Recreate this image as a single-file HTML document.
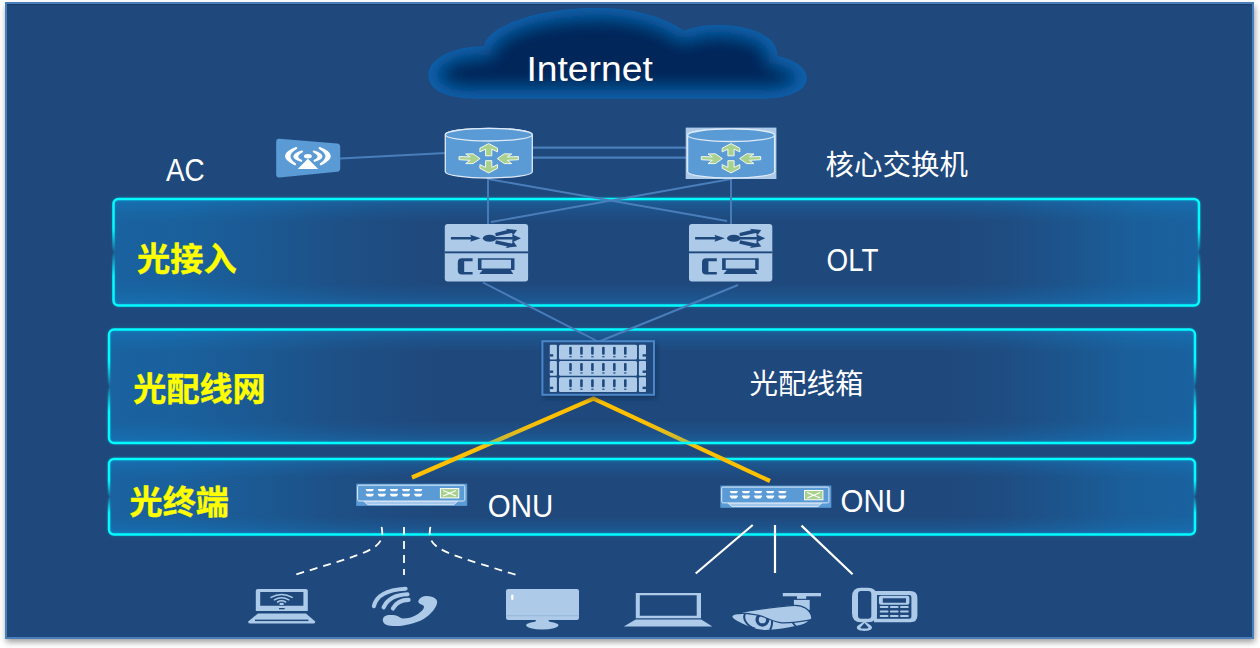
<!DOCTYPE html>
<html lang="zh-CN"><head><meta charset="utf-8"><title>PON network</title>
<style>
html,body{margin:0;padding:0;background:#fff;}
body{width:1260px;height:648px;overflow:hidden;font-family:"Liberation Sans", "Noto Sans CJK SC", sans-serif;}
svg{display:block;font-family:"Liberation Sans", "Noto Sans CJK SC", sans-serif;}
</style></head><body>
<svg width="1260" height="648" viewBox="0 0 1260 648">
<defs>
<filter id="sh" x="-5%" y="-5%" width="110%" height="112%"><feGaussianBlur stdDeviation="3"/></filter>
<filter id="b8" x="-20%" y="-40%" width="140%" height="180%"><feGaussianBlur stdDeviation="8.5"/></filter>
<filter id="b1" x="-5%" y="-20%" width="110%" height="140%"><feGaussianBlur stdDeviation="1.2"/></filter>
<filter id="b3" x="-20%" y="-20%" width="140%" height="140%"><feGaussianBlur stdDeviation="2"/></filter>
<clipPath id="cc"><path d="M476 98.4 C446 98.4 428.6 90 428.6 75 C428.6 58 455 46 484 46.5 C488 25 540 8 597 8 C640 8 668 20 684 31 C700 24 725 23 745 28 C765 33 778 42 777 56 C795 60 806.6 68 806.6 78 C806.6 91 788 98.4 764 98.4 Z"/></clipPath>
<linearGradient id="ph" x1="0" x2="1" y1="0" y2="0">
 <stop offset="0" stop-color="#0e96e6" stop-opacity="0.33"/>
 <stop offset="0.06" stop-color="#0e96e6" stop-opacity="0.31"/>
 <stop offset="0.14" stop-color="#0e96e6" stop-opacity="0.2"/>
 <stop offset="0.21" stop-color="#0e96e6" stop-opacity="0.085"/>
 <stop offset="0.27" stop-color="#0e96e6" stop-opacity="0.02"/>
 <stop offset="0.31" stop-color="#0e96e6" stop-opacity="0"/>
 <stop offset="0.77" stop-color="#0e96e6" stop-opacity="0"/>
 <stop offset="0.82" stop-color="#0e96e6" stop-opacity="0.04"/>
 <stop offset="0.88" stop-color="#0e96e6" stop-opacity="0.15"/>
 <stop offset="0.94" stop-color="#0e96e6" stop-opacity="0.28"/>
 <stop offset="1" stop-color="#0e96e6" stop-opacity="0.33"/>
</linearGradient>
<linearGradient id="pvt" x1="0" x2="0" y1="0" y2="1">
 <stop offset="0" stop-color="#0e96e6" stop-opacity=".27"/>
 <stop offset="0.45" stop-color="#0e96e6" stop-opacity=".12"/>
 <stop offset="1" stop-color="#0e96e6" stop-opacity="0"/>
</linearGradient>
<linearGradient id="pvb" x1="0" x2="0" y1="1" y2="0">
 <stop offset="0" stop-color="#0e96e6" stop-opacity=".27"/>
 <stop offset="0.45" stop-color="#0e96e6" stop-opacity=".12"/>
 <stop offset="1" stop-color="#0e96e6" stop-opacity="0"/>
</linearGradient>
<linearGradient id="pb" x1="0" x2="0" y1="0" y2="1">
 <stop offset="0" stop-color="#02fbff" stop-opacity="1"/>
 <stop offset="0.28" stop-color="#02fbff" stop-opacity="1"/>
 <stop offset="0.5" stop-color="#02fbff" stop-opacity="0"/>
 <stop offset="0.72" stop-color="#02fbff" stop-opacity="1"/>
 <stop offset="1" stop-color="#02fbff" stop-opacity="1"/>
</linearGradient>
</defs>
<rect x="6" y="6" width="1249" height="636" fill="#000" opacity=".4" filter="url(#sh)"/>
<rect x="6" y="3" width="1247" height="635" fill="#1f497d" stroke="#4a7ebb" stroke-width="2"/>
<rect x="7" y="4" width="1245" height="1.2" fill="#183a66" opacity=".8"/>
<g clip-path="url(#cc)"><rect x="420" y="0" width="400" height="110" fill="#0762ad"/><path d="M476 98.4 C446 98.4 428.6 90 428.6 75 C428.6 58 455 46 484 46.5 C488 25 540 8 597 8 C640 8 668 20 684 31 C700 24 725 23 745 28 C765 33 778 42 777 56 C795 60 806.6 68 806.6 78 C806.6 91 788 98.4 764 98.4 Z" fill="#01265a" stroke="#0762ad" stroke-width="17" filter="url(#b8)"/></g>
<g>
<rect x="109" y="458.9" width="1086" height="75.6" rx="5" fill="url(#ph)"/>
<rect x="110" y="458.9" width="1084" height="18" fill="url(#pvt)"/>
<rect x="110" y="516.5" width="1084" height="18" fill="url(#pvb)"/>
<rect x="109" y="458.9" width="1086" height="75.6" rx="5" fill="none" stroke="url(#pb)" stroke-width="4" opacity=".15" filter="url(#b1)"/>
<rect x="109" y="458.9" width="1086" height="75.6" rx="5" fill="none" stroke="url(#pb)" stroke-width="2.5"/>
</g>
<path d="M412 477.5 L593.5 398.5 L770 481" fill="none" stroke="#ffc000" stroke-width="4.2" stroke-linejoin="miter"/>
<g>
<rect x="109" y="329.6" width="1086" height="113.4" rx="5" fill="url(#ph)"/>
<rect x="110" y="329.6" width="1084" height="22" fill="url(#pvt)"/>
<rect x="110" y="421" width="1084" height="22" fill="url(#pvb)"/>
<rect x="109" y="329.6" width="1086" height="113.4" rx="5" fill="none" stroke="url(#pb)" stroke-width="4" opacity=".15" filter="url(#b1)"/>
<rect x="109" y="329.6" width="1086" height="113.4" rx="5" fill="none" stroke="url(#pb)" stroke-width="2.5"/>
</g>
<g>
<rect x="113.5" y="199" width="1085.5" height="106.5" rx="5" fill="url(#ph)"/>
<rect x="114.5" y="199" width="1083.5" height="22" fill="url(#pvt)"/>
<rect x="114.5" y="283.5" width="1083.5" height="22" fill="url(#pvb)"/>
<rect x="113.5" y="199" width="1085.5" height="106.5" rx="5" fill="none" stroke="url(#pb)" stroke-width="4" opacity=".15" filter="url(#b1)"/>
<rect x="113.5" y="199" width="1085.5" height="106.5" rx="5" fill="none" stroke="url(#pb)" stroke-width="2.5"/>
</g>
<line x1="340" y1="158.5" x2="446" y2="153" stroke="#4a7ebb" stroke-width="2" />
<line x1="533" y1="147.7" x2="686" y2="147.7" stroke="#4a7ebb" stroke-width="2.2" />
<line x1="533" y1="157.6" x2="686" y2="157.6" stroke="#4a7ebb" stroke-width="2.2" />
<line x1="488" y1="178" x2="488" y2="225" stroke="#4a7ebb" stroke-width="1.9" />
<line x1="731" y1="178" x2="731" y2="225" stroke="#4a7ebb" stroke-width="1.9" />
<line x1="488" y1="179" x2="727" y2="221" stroke="#4a7ebb" stroke-width="1.9" />
<line x1="731" y1="179" x2="491" y2="222" stroke="#4a7ebb" stroke-width="1.9" />
<line x1="483" y1="282.5" x2="599" y2="342" stroke="#4a7ebb" stroke-width="1.9" />
<line x1="738" y1="285" x2="598" y2="342" stroke="#4a7ebb" stroke-width="1.9" />
<path d="M445.3 134.7 v37 a43.5 6.3 0 0 0 87 0 v-37 a43.5 6.3 0 0 0 -87 0z" fill="#5b9bd5" stroke="#dce9f6" stroke-width="1.3"/><ellipse cx="488.8" cy="134.7" rx="43.5" ry="6.3" fill="#5b9bd5" stroke="#dce9f6" stroke-width="1.3"/>
<g fill="#a9d18e" stroke="#f3f8ec" stroke-width="1" stroke-linejoin="miter"><path d="M488.70 143.60 L497.50 148.20 L497.50 151.90 L491.80 149.10 L491.80 155.80 L485.60 155.80 L485.60 149.10 L479.90 151.90 L479.90 148.20Z"/><path d="M488.70 172.90 L497.50 168.30 L497.50 164.60 L491.80 167.40 L491.80 160.70 L485.60 160.70 L485.60 167.40 L479.90 164.60 L479.90 168.30Z"/><path d="M480.10 158.60 L473.10 153.80 L465.70 154.00 L470.10 156.90 L459.00 156.60 L459.00 159.70 L470.10 160.30 L465.70 163.60 L473.10 163.60Z"/><path d="M497.30 158.60 L504.30 153.80 L511.70 154.00 L507.30 156.90 L518.40 156.60 L518.40 159.70 L507.30 160.30 L511.70 163.60 L504.30 163.60Z"/></g>
<rect x="685.7" y="127.6" width="90.7" height="51.4" fill="#adcbe9"/>
<path d="M687.6 135.2 v36.5 a43.5 6.3 0 0 0 87 0 v-36.5 a43.5 6.3 0 0 0 -87 0z" fill="#5b9bd5" stroke="#dce9f6" stroke-width="1.3"/><ellipse cx="731.1" cy="135.2" rx="43.5" ry="6.3" fill="#5b9bd5" stroke="#dce9f6" stroke-width="1.3"/>
<g fill="#a9d18e" stroke="#f3f8ec" stroke-width="1" stroke-linejoin="miter"><path d="M731.00 143.60 L739.80 148.20 L739.80 151.90 L734.10 149.10 L734.10 155.80 L727.90 155.80 L727.90 149.10 L722.20 151.90 L722.20 148.20Z"/><path d="M731.00 172.90 L739.80 168.30 L739.80 164.60 L734.10 167.40 L734.10 160.70 L727.90 160.70 L727.90 167.40 L722.20 164.60 L722.20 168.30Z"/><path d="M722.40 158.60 L715.40 153.80 L708.00 154.00 L712.40 156.90 L701.30 156.60 L701.30 159.70 L712.40 160.30 L708.00 163.60 L715.40 163.60Z"/><path d="M739.60 158.60 L746.60 153.80 L754.00 154.00 L749.60 156.90 L760.70 156.60 L760.70 159.70 L749.60 160.30 L754.00 163.60 L746.60 163.60Z"/></g>
<path d="M279.5 138.8 L337 143.6 Q340.2 144 340.2 147 V168.2 Q340.2 171.4 337 171.8 L279.5 177.6 Q276.2 177.8 276.2 174.6 V141.8 Q276.2 138.6 279.5 138.8Z" fill="#5b9bd5"/>
<path d="M296.20 148.00 Q276.40 155.70 295.00 164.20 Q283.20 155.70 296.20 148.00ZM302.00 151.50 Q287.20 156.45 301.20 160.80 Q292.80 156.45 302.00 151.50ZM319.60 148.00 Q339.40 155.70 320.80 164.20 Q332.60 155.70 319.60 148.00ZM313.80 151.50 Q328.60 156.45 314.60 160.80 Q323.00 156.45 313.80 151.50Z" fill="#fff" stroke="#fff" stroke-width="2.1" stroke-linejoin="round"/>
<path d="M307.9 158.8 L318.2 169 H297.7Z" fill="#fff"/><ellipse cx="307.9" cy="156.2" rx="3.9" ry="2.2" fill="#fff"/>
<g transform="translate(444.8 224)"><rect x="0" y="0" width="83.3" height="57.4" rx="3" fill="#adcbe9"/><rect x="0" y="27.4" width="83.3" height="1.9" fill="#1f497d"/><path d="M6.1 13 H26.4 L25.4 10.8 L35.9 14.3 L25.4 17.8 L26.4 15.6 H6.1Z" fill="#1f497d"/><ellipse cx="44.8" cy="14.3" rx="6.8" ry="3.5" fill="#1f497d"/><path d="M50 13 H67.8 L67.2 10.2 L76.2 14.3 L67.2 18.4 L67.8 15.6 H50Z" fill="#1f497d"/><path d="M50.4 8.9 L62.6 6 L60.7 4.7 L72.3 6 L68.7 11 L66.9 9 L51 12.3Z" fill="#1f497d"/><path d="M50.4 19.7 L62.6 22.6 L60.7 23.9 L72.3 22.6 L68.7 17.6 L66.9 19.6 L51 16.3Z" fill="#1f497d"/><path d="M27.8 34.3 H17 Q13 34.3 13 38.3 V46.6 Q13 50.6 17 50.6 H27.8 V47.9 H19.4 V37.2 H27.8Z" fill="#1f497d"/><path d="M33.1 34.3 H69.7 V45.9 H33.1Z M36.7 35.8 V44.5 H66.2 V35.8Z" fill="#1f497d" fill-rule="evenodd"/><path d="M38 45.8 H65.8 L68.5 50 H34.5Z" fill="#1f497d"/></g>
<g transform="translate(689 224)"><rect x="0" y="0" width="83.3" height="57.4" rx="3" fill="#adcbe9"/><rect x="0" y="27.4" width="83.3" height="1.9" fill="#1f497d"/><path d="M6.1 13 H26.4 L25.4 10.8 L35.9 14.3 L25.4 17.8 L26.4 15.6 H6.1Z" fill="#1f497d"/><ellipse cx="44.8" cy="14.3" rx="6.8" ry="3.5" fill="#1f497d"/><path d="M50 13 H67.8 L67.2 10.2 L76.2 14.3 L67.2 18.4 L67.8 15.6 H50Z" fill="#1f497d"/><path d="M50.4 8.9 L62.6 6 L60.7 4.7 L72.3 6 L68.7 11 L66.9 9 L51 12.3Z" fill="#1f497d"/><path d="M50.4 19.7 L62.6 22.6 L60.7 23.9 L72.3 22.6 L68.7 17.6 L66.9 19.6 L51 16.3Z" fill="#1f497d"/><path d="M27.8 34.3 H17 Q13 34.3 13 38.3 V46.6 Q13 50.6 17 50.6 H27.8 V47.9 H19.4 V37.2 H27.8Z" fill="#1f497d"/><path d="M33.1 34.3 H69.7 V45.9 H33.1Z M36.7 35.8 V44.5 H66.2 V35.8Z" fill="#1f497d" fill-rule="evenodd"/><path d="M38 45.8 H65.8 L68.5 50 H34.5Z" fill="#1f497d"/></g>
<g><rect x="543" y="343" width="114" height="56" fill="#0a2548" opacity=".45" filter="url(#b3)"/><rect x="542.4" y="341.2" width="111.6" height="53.6" fill="#1f497d" stroke="#4a86c8" stroke-width="2"/><rect x="549.8" y="344.8" width="7.1" height="14.7" rx="1" fill="#adcbe9"/><rect x="559" y="344.8" width="78" height="14.7" rx="1.5" fill="#adcbe9"/><rect x="638.9" y="344.8" width="7.1" height="14.7" rx="1" fill="#adcbe9"/><rect x="549.8" y="354.2" width="3.4" height="2.4" fill="#1f497d"/><rect x="642.6" y="354.2" width="3.4" height="2.4" fill="#1f497d"/><rect x="569.2" y="346.7" width="2.6" height="8" rx="1" fill="#1f497d"/><rect x="569.2" y="356" width="2.6" height="1.4" rx=".6" fill="#1f497d" opacity=".8"/><rect x="580.16" y="346.7" width="2.6" height="8" rx="1" fill="#1f497d"/><rect x="580.16" y="356" width="2.6" height="1.4" rx=".6" fill="#1f497d" opacity=".8"/><rect x="591.12" y="346.7" width="2.6" height="8" rx="1" fill="#1f497d"/><rect x="591.12" y="356" width="2.6" height="1.4" rx=".6" fill="#1f497d" opacity=".8"/><rect x="602.08" y="346.7" width="2.6" height="8" rx="1" fill="#1f497d"/><rect x="602.08" y="356" width="2.6" height="1.4" rx=".6" fill="#1f497d" opacity=".8"/><rect x="613.04" y="346.7" width="2.6" height="8" rx="1" fill="#1f497d"/><rect x="613.04" y="356" width="2.6" height="1.4" rx=".6" fill="#1f497d" opacity=".8"/><rect x="624" y="346.7" width="2.6" height="8" rx="1" fill="#1f497d"/><rect x="624" y="356" width="2.6" height="1.4" rx=".6" fill="#1f497d" opacity=".8"/><rect x="549.8" y="361.1" width="7.1" height="14.7" rx="1" fill="#adcbe9"/><rect x="559" y="361.1" width="78" height="14.7" rx="1.5" fill="#adcbe9"/><rect x="638.9" y="361.1" width="7.1" height="14.7" rx="1" fill="#adcbe9"/><rect x="549.8" y="370.5" width="3.4" height="2.4" fill="#1f497d"/><rect x="642.6" y="370.5" width="3.4" height="2.4" fill="#1f497d"/><rect x="569.2" y="363" width="2.6" height="8" rx="1" fill="#1f497d"/><rect x="569.2" y="372.3" width="2.6" height="1.4" rx=".6" fill="#1f497d" opacity=".8"/><rect x="580.16" y="363" width="2.6" height="8" rx="1" fill="#1f497d"/><rect x="580.16" y="372.3" width="2.6" height="1.4" rx=".6" fill="#1f497d" opacity=".8"/><rect x="591.12" y="363" width="2.6" height="8" rx="1" fill="#1f497d"/><rect x="591.12" y="372.3" width="2.6" height="1.4" rx=".6" fill="#1f497d" opacity=".8"/><rect x="602.08" y="363" width="2.6" height="8" rx="1" fill="#1f497d"/><rect x="602.08" y="372.3" width="2.6" height="1.4" rx=".6" fill="#1f497d" opacity=".8"/><rect x="613.04" y="363" width="2.6" height="8" rx="1" fill="#1f497d"/><rect x="613.04" y="372.3" width="2.6" height="1.4" rx=".6" fill="#1f497d" opacity=".8"/><rect x="624" y="363" width="2.6" height="8" rx="1" fill="#1f497d"/><rect x="624" y="372.3" width="2.6" height="1.4" rx=".6" fill="#1f497d" opacity=".8"/><rect x="549.8" y="377.3" width="7.1" height="14.7" rx="1" fill="#adcbe9"/><rect x="559" y="377.3" width="78" height="14.7" rx="1.5" fill="#adcbe9"/><rect x="638.9" y="377.3" width="7.1" height="14.7" rx="1" fill="#adcbe9"/><rect x="549.8" y="386.7" width="3.4" height="2.4" fill="#1f497d"/><rect x="642.6" y="386.7" width="3.4" height="2.4" fill="#1f497d"/><rect x="569.2" y="379.2" width="2.6" height="8" rx="1" fill="#1f497d"/><rect x="569.2" y="388.5" width="2.6" height="1.4" rx=".6" fill="#1f497d" opacity=".8"/><rect x="580.16" y="379.2" width="2.6" height="8" rx="1" fill="#1f497d"/><rect x="580.16" y="388.5" width="2.6" height="1.4" rx=".6" fill="#1f497d" opacity=".8"/><rect x="591.12" y="379.2" width="2.6" height="8" rx="1" fill="#1f497d"/><rect x="591.12" y="388.5" width="2.6" height="1.4" rx=".6" fill="#1f497d" opacity=".8"/><rect x="602.08" y="379.2" width="2.6" height="8" rx="1" fill="#1f497d"/><rect x="602.08" y="388.5" width="2.6" height="1.4" rx=".6" fill="#1f497d" opacity=".8"/><rect x="613.04" y="379.2" width="2.6" height="8" rx="1" fill="#1f497d"/><rect x="613.04" y="388.5" width="2.6" height="1.4" rx=".6" fill="#1f497d" opacity=".8"/><rect x="624" y="379.2" width="2.6" height="8" rx="1" fill="#1f497d"/><rect x="624" y="388.5" width="2.6" height="1.4" rx=".6" fill="#1f497d" opacity=".8"/></g>
<g transform="translate(356.2 483.7)"><rect x="0" y="0" width="111" height="22.2" fill="#5b9bd5"/><path d="M7.5 17.4 H101.6 L97.6 21 H11.5Z" fill="#a4c7ec" stroke="#dce9f6" stroke-width=".9"/><rect x="1.4" y="1.5" width="107.2" height="15.8" rx="1.5" fill="#5b9bd5" stroke="#dce9f6" stroke-width="1"/><path d="M9.6 5.4 h7.8 v1 l-1.3 1.2 h-5.2 l-1.3 -1.2z" fill="#fff"/><path d="M9.6 10 h7.8 v1.2 l-1.6 1.7 h-4.6 l-1.6 -1.7z" fill="#fff"/><path d="M21.73 5.4 h7.8 v1 l-1.3 1.2 h-5.2 l-1.3 -1.2z" fill="#fff"/><path d="M21.73 10 h7.8 v1.2 l-1.6 1.7 h-4.6 l-1.6 -1.7z" fill="#fff"/><path d="M33.86 5.4 h7.8 v1 l-1.3 1.2 h-5.2 l-1.3 -1.2z" fill="#fff"/><path d="M33.86 10 h7.8 v1.2 l-1.6 1.7 h-4.6 l-1.6 -1.7z" fill="#fff"/><path d="M45.99 5.4 h7.8 v1 l-1.3 1.2 h-5.2 l-1.3 -1.2z" fill="#fff"/><path d="M45.99 10 h7.8 v1.2 l-1.6 1.7 h-4.6 l-1.6 -1.7z" fill="#fff"/><path d="M58.12 5.4 h7.8 v1 l-1.3 1.2 h-5.2 l-1.3 -1.2z" fill="#fff"/><path d="M58.12 10 h7.8 v1.2 l-1.6 1.7 h-4.6 l-1.6 -1.7z" fill="#fff"/><rect x="84.2" y="4.9" width="18.4" height="9.3" fill="#a9d18e" stroke="#fff" stroke-width="1"/><path d="M87 6.8 L99.8 12.3 M87 12.3 L99.8 6.8" stroke="#fff" stroke-width="1.1" fill="none"/></g>
<g transform="translate(720.3 485.6)"><rect x="0" y="0" width="111" height="22.2" fill="#5b9bd5"/><path d="M7.5 17.4 H101.6 L97.6 21 H11.5Z" fill="#a4c7ec" stroke="#dce9f6" stroke-width=".9"/><rect x="1.4" y="1.5" width="107.2" height="15.8" rx="1.5" fill="#5b9bd5" stroke="#dce9f6" stroke-width="1"/><path d="M9.6 5.4 h7.8 v1 l-1.3 1.2 h-5.2 l-1.3 -1.2z" fill="#fff"/><path d="M9.6 10 h7.8 v1.2 l-1.6 1.7 h-4.6 l-1.6 -1.7z" fill="#fff"/><path d="M21.73 5.4 h7.8 v1 l-1.3 1.2 h-5.2 l-1.3 -1.2z" fill="#fff"/><path d="M21.73 10 h7.8 v1.2 l-1.6 1.7 h-4.6 l-1.6 -1.7z" fill="#fff"/><path d="M33.86 5.4 h7.8 v1 l-1.3 1.2 h-5.2 l-1.3 -1.2z" fill="#fff"/><path d="M33.86 10 h7.8 v1.2 l-1.6 1.7 h-4.6 l-1.6 -1.7z" fill="#fff"/><path d="M45.99 5.4 h7.8 v1 l-1.3 1.2 h-5.2 l-1.3 -1.2z" fill="#fff"/><path d="M45.99 10 h7.8 v1.2 l-1.6 1.7 h-4.6 l-1.6 -1.7z" fill="#fff"/><path d="M58.12 5.4 h7.8 v1 l-1.3 1.2 h-5.2 l-1.3 -1.2z" fill="#fff"/><path d="M58.12 10 h7.8 v1.2 l-1.6 1.7 h-4.6 l-1.6 -1.7z" fill="#fff"/><rect x="84.2" y="4.9" width="18.4" height="9.3" fill="#a9d18e" stroke="#fff" stroke-width="1"/><path d="M87 6.8 L99.8 12.3 M87 12.3 L99.8 6.8" stroke="#fff" stroke-width="1.1" fill="none"/></g>
<g fill="none" stroke="#fff" stroke-width="1.8">
<path d="M381.6 526.9 C386 549 372 551.5 294 575" stroke-dasharray="8 6"/>
<path d="M404 526.9 V575" stroke-dasharray="8 6"/>
<path d="M430.4 526.9 C426 549 440 551.5 518.5 575.6" stroke-dasharray="8 6"/>
<path d="M752.7 525 L695.7 573.5 M775 525 V573 M801.5 525.6 L852.6 574.3" stroke-width="2.2"/>
</g>
<g fill="#adcbe9">
<path d="M257.8 589 H305.8 Q307.8 589 307.8 591 V611 H255.8 V591 Q255.8 589 257.8 589Z M260.2 592 V605.8 H303.4 V592Z" fill-rule="evenodd"/>
<path d="M258 613.4 H306 L315.2 621.4 Q315.6 623.4 313 623.4 H250.4 Q247.8 623.4 248.2 621.4Z"/>
<rect x="255" y="619.6" width="53.4" height="1.5" fill="#1f497d"/>
<g fill="none" stroke="#adcbe9" stroke-width="1.5" stroke-linecap="round"><path d="M271 597.4 Q281.6 591.6 292.2 597.4"/><path d="M274.4 599.8 Q281.6 595.6 288.8 599.8"/><path d="M277.6 602 Q281.6 599.6 285.6 602"/></g>
<ellipse cx="281.6" cy="603.9" rx="2.3" ry="1.2" />
<rect x="279" y="608" width="5.6" height="1.3" fill="#1f497d"/>
</g>
<g fill="#adcbe9">
<path d="M382.8 620.5 C382.6 616.6 386 615 390.2 615 C394 615 396.4 615.4 398.4 616.6 C400 617.6 401 618.5 403.5 618.4 C407 618.3 410 617.6 412.6 616.7 C417 615 421.6 611.6 423.6 608.4 C424.8 606.4 423.4 605.6 421.4 604.6 C419 603.4 417.8 602.4 418.4 600.8 C419.6 597.8 423 596 427 596.1 C432 596.2 436.8 598.4 437.1 601.6 C437.3 604 436.4 605.8 434.8 608.2 C433 611 431.4 612.6 429.6 614.4 C426 617.8 421.6 620.2 416.9 622 C412 623.8 407 625 402 625.7 C398 626.2 394 626.2 390.2 625.8 C386.6 625.4 383 623.6 382.8 620.5Z"/>
<g fill="none" stroke="#adcbe9" stroke-width="4.1" stroke-linecap="round"><path d="M373.9 606.2 Q377.2 590.3 405.6 588.7"/><path d="M383.6 607.4 Q389.2 595 407.5 594.3"/><path d="M392.9 608.5 Q397.4 599.9 408.6 599.9"/></g>
</g>
<g fill="#adcbe9">
<rect x="506" y="589" width="73" height="31" rx="2.2"/>
<rect x="506" y="615.4" width="73" height=".8" fill="#8fb3da"/>
<rect x="511.2" y="594.4" width="2.2" height="5.6" rx="1.1" fill="#fff"/>
<path d="M536 620 H548.5 L549.5 623 H535Z"/>
<ellipse cx="542.3" cy="625.3" rx="16.2" ry="4.1"/>
</g>
<g fill="#adcbe9">
<path d="M635.8 593 H701 V618.2 H635.8Z M639.8 595.3 V615.8 H696.7 V595.3Z" fill-rule="evenodd"/>
<path d="M635.6 619.6 H701.2 L712.4 626.5 H623.8Z"/>
</g>
<g fill="#adcbe9">
<rect x="782.8" y="593" width="38.2" height="3.3"/>
<rect x="797" y="596" width="9.2" height="2.8"/>
<rect x="793.9" y="599.9" width="15.8" height="10"/>
<path d="M732.4 616.2 C733.4 614.6 737 613.9 744 613.9 L790 616 L808 621.6 C803 624.6 799 625.6 794 626.3 C786 628 778 629.4 769.3 629.8 C762 630.2 756.5 629.2 751.8 627.5 C746 625.4 739.4 622.4 735.9 620.1 C734 618.8 732 617.4 732.4 616.2Z"/>
<g fill="none" stroke="#1f497d">
<path d="M745 613.6 C742.4 619 746.6 625.6 755 628.8" stroke-width="2"/>
<circle cx="762.4" cy="619.7" r="5.3" stroke-width="3.3"/>
<path d="M771.8 620.5 C772.6 624 771.6 627 770 630" stroke-width="2"/>
<path d="M792.6 622.6 L796.4 627" stroke-width="1.7"/>
</g>
<path d="M738.4 612.7 C760 609 780 606 795 605.3 C803 605.2 810 609.5 811.8 617 C812 619 811.5 619.6 810.5 619.8 C800 621.8 790 623 782 622.8 C775 622.4 770 619.5 764 617 C757 614.5 750 613.5 738.4 612.7Z" stroke="#1f497d" stroke-width="1.3" stroke-linejoin="round"/>
</g>
<g fill="#adcbe9">
<path d="M874 591 H910.4 Q917.4 591 917.4 598 V615.3 Q917.4 622.3 910.4 622.3 H874Z M876.9 595 V618.7 H909.4 Q911.4 618.7 911.4 616.7 V597 Q911.4 595 909.4 595Z" fill-rule="evenodd"/>
<path d="M861 587.7 H867.9 Q876.9 587.7 876.9 596.7 V613.3 Q876.9 622.3 867.9 622.3 H861 Q852 622.3 852 613.3 V596.7 Q852 587.7 861 587.7Z M861 591 Q858 591 858 594 V615.7 Q858 618.7 861 618.7 H868.3 Q871.3 618.7 871.3 615.7 V594 Q871.3 591 868.3 591Z" fill-rule="evenodd"/>
<path d="M864.5 621 C861.4 624 856.8 625.2 856.8 627.6 C856.8 630 860.4 631 864.4 631 C868.4 631 872 630 872 627.6 C872 625.2 867.6 624 864.5 621Z M864.5 623 L868.5 627.4 Q868.5 628.6 864.5 628.6 Q860.4 628.6 860.4 627.4Z" fill-rule="evenodd"/>
<path d="M880.9 595.8 H907.4 Q909.4 595.8 909.4 597.8 V602.8 Q909.4 604.8 907.4 604.8 H880.9 Q878.9 604.8 878.9 602.8 V597.8 Q878.9 595.8 880.9 595.8Z M882.8 598.2 V602.7 H906 V598.2Z" fill-rule="evenodd"/>
<rect x="879.7" y="605.9" width="8.8" height="2" rx="1"/>
<rect x="889.85" y="605.9" width="8.8" height="2" rx="1"/>
<rect x="900" y="605.9" width="8.8" height="2" rx="1"/>
<rect x="879.7" y="610.5" width="8.8" height="2" rx="1"/>
<rect x="889.85" y="610.5" width="8.8" height="2" rx="1"/>
<rect x="900" y="610.5" width="8.8" height="2" rx="1"/>
<rect x="879.7" y="615.1" width="8.8" height="2" rx="1"/>
<rect x="889.85" y="615.1" width="8.8" height="2" rx="1"/>
<rect x="900" y="615.1" width="8.8" height="2" rx="1"/>
</g>
<text x="526.4" y="80.6" font-size="35.9" fill="#fff" textLength="126.4" lengthAdjust="spacingAndGlyphs">Internet</text>
<text x="165.9" y="180.8" font-size="31.6" fill="#fff" textLength="38.8" lengthAdjust="spacingAndGlyphs">AC</text>
<text x="826.6" y="270.6" font-size="31.2" fill="#fff" textLength="52" lengthAdjust="spacingAndGlyphs">OLT</text>
<text x="487.8" y="516.9" font-size="31.2" fill="#fff" textLength="65.5" lengthAdjust="spacingAndGlyphs">ONU</text>
<text x="840.6" y="512" font-size="31.2" fill="#fff" textLength="65.5" lengthAdjust="spacingAndGlyphs">ONU</text>
<text x="825.6" y="174.6" font-size="28.6" fill="#fff" textLength="142.4" lengthAdjust="spacingAndGlyphs">核心交换机</text>
<text x="749.4" y="394.2" font-size="28.6" fill="#fff" textLength="114" lengthAdjust="spacingAndGlyphs">光配线箱</text>
<text x="136.9" y="270.6" font-size="33" fill="#ffff00" textLength="99.8" lengthAdjust="spacingAndGlyphs" font-weight="700" stroke="#ffff00" stroke-width=".4" stroke-linejoin="round">光接入</text>
<text x="133.3" y="400.8" font-size="33" fill="#ffff00" textLength="132.4" lengthAdjust="spacingAndGlyphs" font-weight="700" stroke="#ffff00" stroke-width=".4" stroke-linejoin="round">光配线网</text>
<text x="129.5" y="513.7" font-size="33" fill="#ffff00" textLength="99.4" lengthAdjust="spacingAndGlyphs" font-weight="700" stroke="#ffff00" stroke-width=".4" stroke-linejoin="round">光终端</text>
</svg>
</body></html>
